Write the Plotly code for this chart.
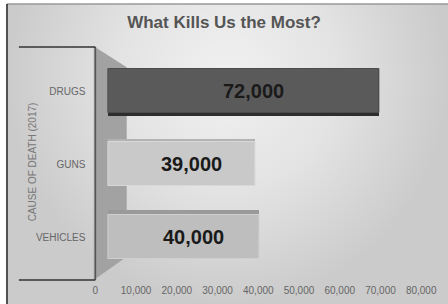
import plotly.graph_objects as go

# ---- data ----
causes = ["VEHICLES", "GUNS", "DRUGS"]
deaths = [40000, 39000, 72000]
labels = ["40,000", "39,000", "72,000"]
tick_vals = [0, 10000, 20000, 30000, 40000, 50000, 60000, 70000, 80000]
tick_text = ["0", "10,000", "20,000", "30,000", "40,000", "50,000", "60,000", "70,000", "80,000"]

# ---- styling ----
FONT = "Arial, Liberation Sans, sans-serif"
front_colors = ["#bebebe", "#c9c9c9", "#5a5a5a"]
front_lines = ["#cfcfcf", "#d8d8d8", "#4c4c4c"]
side_colors = ["#9a9a9a", "#b3b3b3", "#2e2e2e"]
side_width = [0.658, 0.63, 0.637]
side_offset = [-0.288, -0.288, -0.349]

W, H = 448, 304
xd = [93 / W, 437 / W]
yd = [24 / H, 257 / H]
X2 = [-3430, 87335]

fig = go.Figure()

# background gradient (subplot xy, full paper)
fig.add_trace(go.Scatter(
    x=[0, 1, 1, 0, 0], y=[0, 0, 1.5, 1.5, 0], mode="lines", fill="toself",
    line=dict(width=0),
    fillgradient=dict(type="radial", colorscale=[[0, "#f1f1f1"], [0.5, "#e3e3e3"], [1, "#cbcbcb"]]),
    hoverinfo="skip", showlegend=False, xaxis="x", yaxis="y"))

# 3D wall side face (decoration, background subplot space)
fig.add_trace(go.Scatter(
    x=[0.1968, 0.2715, 0.2715, 0.1968, 0.1968], y=[0.8595, 0.7893, 0.1572, 0.0803, 0.8595],
    mode="lines", fill="toself", fillcolor="#a2a2a2", line=dict(width=0),
    hoverinfo="skip", showlegend=False, xaxis="x", yaxis="y"))

# side / top faces of bars
fig.add_trace(go.Bar(
    y=causes, x=deaths, orientation="h", width=side_width, offset=side_offset,
    marker=dict(color=side_colors, line=dict(width=0)),
    hoverinfo="skip", showlegend=False, xaxis="x2", yaxis="y2"))

# front faces
fig.add_trace(go.Bar(
    y=causes, x=deaths, orientation="h", width=0.59,
    marker=dict(color=front_colors, line=dict(color=front_lines, width=1)),
    showlegend=False, xaxis="x2", yaxis="y2"))

# invisible trace so the tick axis (x3) is drawn
fig.add_trace(go.Scatter(x=[0, 80000], y=[causes[0], causes[0]], mode="markers",
                         marker=dict(opacity=0), hoverinfo="skip", showlegend=False,
                         xaxis="x3", yaxis="y2"))

# value labels on the bars
for c, v, t in zip(causes, deaths, labels):
    fig.add_annotation(x=v / 2, y=c, xref="x2", yref="y2", text=f"<b>{t}</b>",
                       showarrow=False, xshift=10,
                       font=dict(family=FONT, size=20, color="#1a1a1a"))

fig.update_layout(
    width=W, height=H,
    margin=dict(l=0, r=0, t=0, b=0),
    paper_bgcolor="white", plot_bgcolor="rgba(0,0,0,0)",
    barmode="overlay",
    font=dict(family=FONT, color="#666"),
    title=dict(text="<b>What Kills Us the Most?</b>", x=0.5, xanchor="center",
               y=1 - 22 / H, yanchor="middle",
               font=dict(family=FONT, size=17, color="#555")),
    xaxis=dict(domain=[4 / W, 1], range=[0, 1], visible=False, fixedrange=True),
    yaxis=dict(domain=[0, 300 / H], range=[0, 1], visible=False, fixedrange=True),
    xaxis2=dict(domain=xd, range=X2, anchor="y2", visible=False),
    yaxis2=dict(domain=yd, anchor="x2", type="category", categoryorder="array",
                categoryarray=causes, range=[-0.589, 2.603],
                showgrid=False, showline=False, zeroline=False, ticks="",
                ticklabelstandoff=9,
                tickfont=dict(family=FONT, size=10, color="#666")),
    xaxis3=dict(overlaying="x2", anchor="y2", side="bottom", range=[0, 83900],
                tickvals=tick_vals, ticktext=tick_text, showgrid=False,
                showline=False, zeroline=False, ticks="", ticklabelstandoff=3,
                tickfont=dict(family=FONT, size=10, color="#666")),
    bargap=0,
)

# frame lines
fig.add_shape(type="line", xref="paper", yref="paper", x0=93 / W, x1=93 / W,
              y0=yd[0], y1=yd[1], line=dict(color="#555", width=1.5))
fig.add_shape(type="line", xref="paper", yref="paper", x0=16 / W, x1=93 / W,
              y0=yd[1], y1=yd[1], line=dict(color="#333", width=1.5))
fig.add_shape(type="line", xref="paper", yref="paper", x0=16 / W, x1=93 / W,
              y0=yd[0], y1=yd[0], line=dict(color="#333", width=1.5))
fig.add_shape(type="line", xref="paper", yref="paper", x0=4 / W, x1=1,
              y0=300 / H, y1=300 / H, line=dict(color="#999", width=1.5))
fig.add_shape(type="line", xref="paper", yref="paper", x0=4 / W, x1=4 / W,
              y0=0, y1=300 / H, line=dict(color="#222", width=1.5))

fig.add_annotation(text="CAUSE OF DEATH (2017)", xref="paper", yref="paper",
                   x=22 / W, y=1 - 162 / H, textangle=-90, showarrow=False,
                   font=dict(family=FONT, size=10, color="#777"))

fig.write_html("out.html", config={"displayModeBar": False},
               post_script="document.body.style.margin='0';")
